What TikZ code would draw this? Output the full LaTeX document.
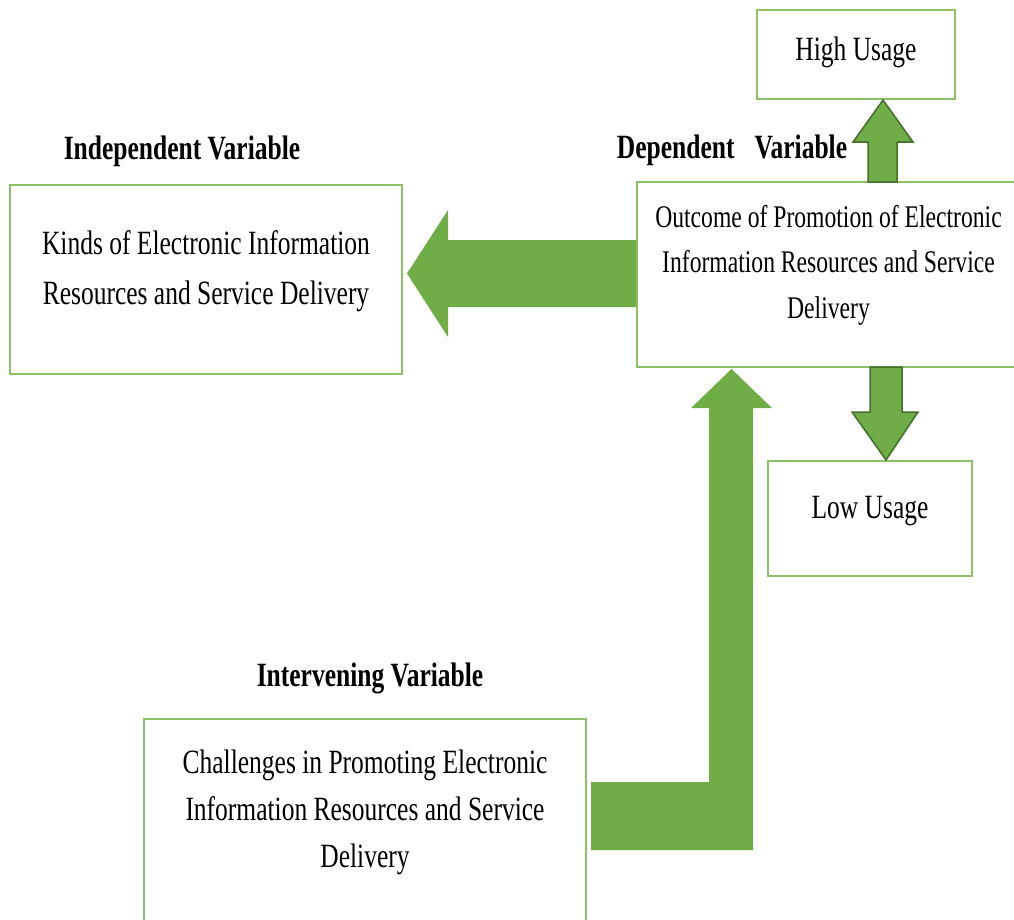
\documentclass[tikz,border=0pt]{standalone}
\usepackage{fontspec}
\setmainfont[FakeStretch=0.75]{Liberation Serif}
\usetikzlibrary{positioning,calc}
\definecolor{boxgreen}{HTML}{8CC168}
\definecolor{arrowgreen}{HTML}{70AD47}
\definecolor{edgegreen}{HTML}{436E2B}

\begin{document}
\begin{tikzpicture}[x=1pt,y=-1pt,
  box/.style={draw=boxgreen, line width=2pt, inner sep=0pt},
  boxtext/.style={align=center, font=\fontsize{34}{47}\selectfont},
  varlabel/.style={font=\fontsize{34}{40}\selectfont\bfseries},
  bigarrow/.style={fill=arrowgreen},
  smallarrow/.style={fill=arrowgreen, draw=edgegreen, line width=1.5pt, line join=miter}]
  \useasboundingbox (0,0) rectangle (1014,919);

  % Kasten
  \node[box, minimum width=392pt, minimum height=189pt] (indep) at (206,279.5) {};
  \node[box, minimum width=379pt, minimum height=185pt] (dep) at (826.5,274.5) {};
  \node[box, minimum width=198pt, minimum height=89pt] (high) at (856,54.5) {};
  \node[box, minimum width=204pt, minimum height=115pt] (low) at (870,518.5) {};
  \node[box, minimum width=442pt, minimum height=241pt] (interv) at (365,839.5) {};

  % Texte
  \node[boxtext, font=\fontsize{34}{50}\selectfont] (indeptext) at (206,271)
    {Kinds of Electronic Information\\Resources and Service Delivery};
  \node[boxtext, font=\fontsize{31.5}{45.5}\selectfont] (deptext) at (828.5,265)
    {Outcome of Promotion of Electronic\\Information Resources and Service\\Delivery};
  \node[boxtext] (hightext) at (856,52) {High Usage};
  \node[boxtext] (lowtext) at (870,511) {Low Usage};
  \node[boxtext] (intervtext) at (365,812)
    {Challenges in Promoting Electronic\\Information Resources and Service\\Delivery};

  % Variablen
  \node[varlabel] (indeplabel) at (182,151) {Independent Variable};
  \node[varlabel] (deplabel) at (732,150) {Dependent\hspace{20pt}Variable};
  \node[varlabel] (intervlabel) at (370,678) {Intervening Variable};

  % Pfeile
  \fill[bigarrow] (dep.west |- 0,240) -- (448,240) -- (448,210) -- (407,273.5)
    -- (448,337) -- (448,307) -- (dep.west |- 0,307) -- cycle;
  \draw[smallarrow] (868,182) -- (868,142) -- (853,142) -- (883,100)
    -- (913,142) -- (897,142) -- (897,182) -- cycle;
  \draw[smallarrow] (870,367) -- (870,412) -- (852,412) -- (886,460)
    -- (918,412) -- (902,412) -- (902,367) -- cycle;
  \fill[bigarrow] (591,782) -- (709,782) -- (709,408) -- (691,408) -- (731.5,369)
    -- (772,408) -- (753,408) -- (753,850) -- (591,850) -- cycle;
\end{tikzpicture}
\end{document}
